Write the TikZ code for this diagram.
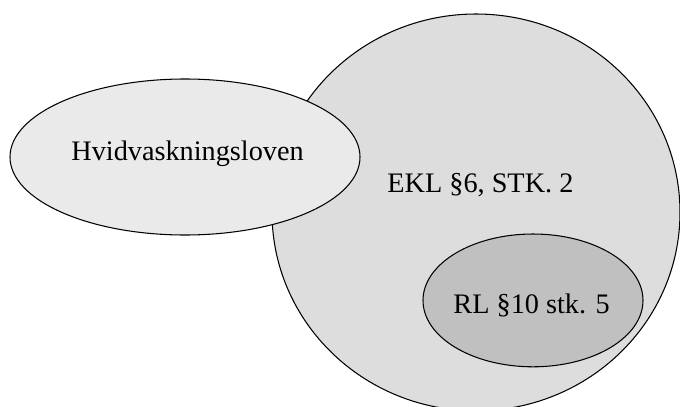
\documentclass[tikz,border=0pt]{standalone}
\usepackage{fontspec}
\setmainfont{Liberation Serif}
\usepackage{tikz}
\usetikzlibrary{positioning}

\definecolor{lawlight}{HTML}{EAEAEA}
\definecolor{lawmid}{HTML}{DDDDDD}
\definecolor{lawdark}{HTML}{C0C0C0}

\begin{document}
\begin{tikzpicture}[line width=0.75pt, font=\fontsize{20.1}{24}\selectfont]
    \useasboundingbox (0,0) rectangle (17,10.15);

    % EKL circle
    \draw [fill=lawmid] (11.9,4.84) ellipse (5.1cm and 4.96cm);

    % Hvidvask ellipse
    \draw [fill=lawlight] (4.625,6.225) ellipse (4.375cm and 1.95cm);

    % RL ellipse
    \draw [fill=lawdark] (13.325,2.64) ellipse (2.75cm and 1.66cm);

    % Labels
    \node[anchor=base] (hvid) at (4.69,6.15) {Hvidvaskningsloven};
    \node[anchor=base] (ekl) at (12.01,5.35) {EKL §6, STK. 2};
    \node[anchor=base] (rl) at (13.29,2.325) {RL §10 stk. 5};
\end{tikzpicture}
\end{document}
